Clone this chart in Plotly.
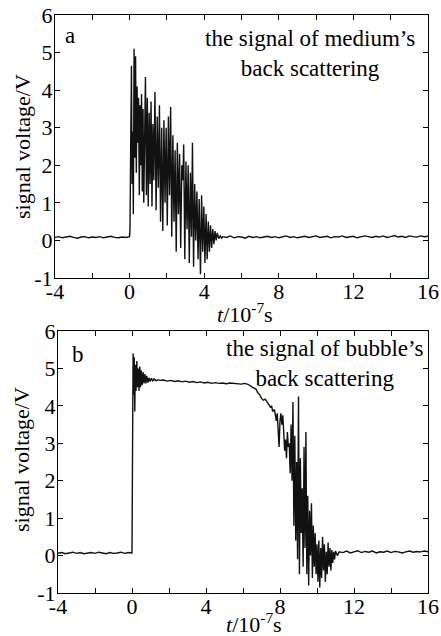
import plotly.graph_objects as go

# ---------------- data (t in 1e-7 s, signal in V) ----------------
t_pre = [-4.0, -3.8, -3.6, -3.4, -3.2, -3.0, -2.8, -2.6, -2.4, -2.2, -2.0,
         -1.8, -1.6, -1.4, -1.2, -1.0, -0.8, -0.6, -0.4, -0.2, 0.0]

a_pre = [0.08, 0.10, 0.07, 0.09, 0.11, 0.08, 0.06, 0.09, 0.10, 0.07, 0.09,
         0.08, 0.10, 0.07, 0.09, 0.11, 0.08, 0.07, 0.09, 0.08, 0.10]

a_burst_t = [0.02, 0.06, 0.10, 0.13, 0.17, 0.20, 0.24, 0.28, 0.32, 0.36, 0.40,
             0.44, 0.48, 0.52, 0.56, 0.60, 0.64, 0.68, 0.72, 0.76, 0.80, 0.85,
             0.90, 0.95, 1.00, 1.05, 1.10, 1.15, 1.20, 1.25, 1.30, 1.36, 1.42,
             1.48, 1.54, 1.60, 1.66, 1.72, 1.78, 1.84, 1.90, 1.96, 2.02, 2.08,
             2.14, 2.20, 2.26, 2.32, 2.38, 2.44, 2.50, 2.56, 2.62, 2.68, 2.74,
             2.80, 2.86, 2.90, 2.96, 3.02, 3.08, 3.14, 3.20, 3.26, 3.32, 3.37,
             3.43, 3.49, 3.55, 3.61, 3.67, 3.73, 3.80, 3.86, 3.92, 3.98, 4.04,
             4.10, 4.16, 4.22, 4.28, 4.34, 4.40, 4.46, 4.52, 4.58, 4.64, 4.70,
             4.78, 4.86, 4.94, 5.00]
a_burst_v = [0.3, 2.6, 4.65, 1.5, 2.9, 0.7, 5.1, 2.2, 4.9, 1.8, 4.1,
             2.6, 3.8, 1.2, 3.6, 2.0, 3.9, 1.3, 3.5, 1.0, 3.2, 4.35,
             1.2, 3.8, 0.9, 3.4, 1.5, 3.7, 0.9, 3.1, 1.6, 3.95, 0.8,
             3.3, 1.4, 3.6, 0.5, 3.0, 0.25, 3.2, 1.0, 3.0, 0.4, 3.3,
             1.2, 3.55, 0.1, 2.8, 0.5, 2.4, -0.3, 2.6, 0.7, 2.3, -0.2,
             2.0, 1.6, 2.55, -0.5, 2.1, 0.3, 2.0, -0.6, 1.8, 0.1, 2.6,
             -0.7, 1.5, 0.0, 1.3, -0.5, 1.1, -0.9, 1.2, -0.3, 0.9, -0.6,
             0.7, -0.5, 0.5, -0.3, 0.4, -0.2, 0.3, -0.1, 0.25, 0.0, 0.2,
             0.05, 0.12, 0.06, 0.1]

a_post_t = [5.2, 5.4, 5.6, 5.8, 6.0, 6.2, 6.4, 6.6, 6.8, 7.0, 7.2, 7.4, 7.6,
            7.8, 8.0, 8.2, 8.4, 8.6, 8.8, 9.0, 9.2, 9.4, 9.6, 9.8, 10.0, 10.2,
            10.4, 10.6, 10.8, 11.0, 11.2, 11.4, 11.6, 11.8, 12.0, 12.2, 12.4,
            12.6, 12.8, 13.0, 13.2, 13.4, 13.6, 13.8, 14.0, 14.2, 14.4, 14.6,
            14.8, 15.0, 15.2, 15.4, 15.6, 15.8, 16.0]
a_post_v = [0.08, 0.12, 0.07, 0.10, 0.09, 0.06, 0.11, 0.08, 0.10, 0.07, 0.09,
            0.11, 0.08, 0.10, 0.07, 0.09, 0.12, 0.08, 0.10, 0.07, 0.09, 0.11,
            0.08, 0.10, 0.12, 0.08, 0.09, 0.11, 0.07, 0.10, 0.09, 0.12, 0.08,
            0.10, 0.11, 0.07, 0.09, 0.12, 0.10, 0.08, 0.11, 0.09, 0.12, 0.08,
            0.10, 0.13, 0.09, 0.11, 0.08, 0.12, 0.10, 0.09, 0.12, 0.10, 0.11]

b_pre = [0.06, 0.08, 0.05, 0.07, 0.09, 0.06, 0.08, 0.05, 0.07, 0.08, 0.06,
         0.09, 0.07, 0.05, 0.08, 0.06, 0.07, 0.09, 0.06, 0.08, 0.07]

b_main_t = [0.02, 0.04, 0.06, 0.09, 0.12, 0.15, 0.18, 0.22, 0.26, 0.30, 0.34,
            0.38, 0.42, 0.46, 0.50, 0.55, 0.60, 0.65, 0.70, 0.75, 0.80, 0.86,
            0.92, 0.98, 1.05, 1.12, 1.20, 1.30, 1.40, 1.50, 1.7, 1.9, 2.1,
            2.3, 2.5, 2.7, 2.9, 3.1, 3.3, 3.5, 3.7, 3.9, 4.1, 4.3, 4.5, 4.7,
            4.9, 5.1, 5.3, 5.5, 5.7, 5.9, 6.1, 6.3, 6.5, 6.7, 6.8, 6.9, 7.0,
            7.1, 7.2, 7.3, 7.4, 7.5, 7.55, 7.6, 7.7, 7.75, 7.8, 7.85, 7.9,
            7.95, 8.0, 8.05, 8.1, 8.15, 8.2, 8.25, 8.3, 8.35, 8.4, 8.45, 8.5,
            8.55, 8.6, 8.65, 8.7, 8.75, 8.8, 8.85, 8.9, 8.95, 9.0, 9.05, 9.1,
            9.15, 9.2, 9.25, 9.3, 9.35, 9.4, 9.45, 9.5, 9.55, 9.6, 9.65, 9.7,
            9.75, 9.8, 9.85, 9.9, 9.95, 10.0, 10.05, 10.1, 10.15, 10.2, 10.25,
            10.3, 10.35, 10.4, 10.45, 10.5, 10.55, 10.6, 10.65, 10.7, 10.75,
            10.8, 10.85, 10.9, 10.95, 11.0, 11.1, 11.2]
b_main_v = [1.0, 3.8, 5.4, 4.3, 5.3, 3.85, 5.1, 4.4, 5.2, 4.5, 5.0,
            4.4, 5.05, 4.5, 4.95, 4.55, 4.9, 4.6, 4.85, 4.6, 4.8, 4.62,
            4.75, 4.65, 4.74, 4.66, 4.72, 4.67, 4.70, 4.68, 4.69, 4.66, 4.68,
            4.65, 4.67, 4.64, 4.66, 4.63, 4.65, 4.62, 4.64, 4.61, 4.63, 4.60,
            4.62, 4.60, 4.61, 4.59, 4.61, 4.60, 4.60, 4.58, 4.60, 4.57, 4.50,
            4.45, 4.35, 4.30, 4.20, 4.15, 4.18, 4.10, 4.05, 3.95, 4.0, 3.85,
            3.9, 3.7, 3.6, 3.8, 3.2, 2.9, 3.6, 3.8, 3.5, 3.75, 3.3, 2.8, 3.1,
            2.6, 3.3, 2.9, 3.0, 2.2, 3.5, 2.0, 4.1, 0.8, 3.2, 0.4, 2.5, -0.1,
            4.25, -0.5, 2.6, 0.6, 1.8, -0.3, 2.9, 0.2, 3.3, -0.5, 1.6, -0.8,
            1.2, 0.0, 1.4, -0.6, 0.8, -0.3, 0.6, -0.5, 0.3, -0.7, 0.4, -0.85,
            0.2, -0.6, 0.5, -0.4, 0.3, -0.7, 0.1, -0.5, 0.35, -0.3, 0.2, -0.4,
            0.15, -0.2, 0.1, -0.1, 0.12, 0.0, 0.1]

b_post_t = [11.4, 11.6, 11.8, 12.0, 12.2, 12.4, 12.6, 12.8, 13.0, 13.2, 13.4,
            13.6, 13.8, 14.0, 14.2, 14.4, 14.6, 14.8, 15.0, 15.2, 15.4, 15.6,
            15.8, 16.0]
b_post_v = [0.08, 0.12, 0.07, 0.10, 0.13, 0.08, 0.11, 0.09, 0.12, 0.07, 0.10,
            0.09, 0.12, 0.08, 0.11, 0.10, 0.07, 0.10, 0.12, 0.09, 0.11, 0.10,
            0.12, 0.10]

x_tickvals = [-4, -2, 0, 2, 4, 6, 8, 10, 12, 14, 16]
x_ticktext = ["-4", "", "0", "", "4", "", "8", "", "12", "", "16"]
y_tickvals = [-1, 0, 1, 2, 3, 4, 5, 6]
y_ticktext = ["-1", "0", "1", "2", "3", "4", "5", "6"]

x_title = "<i>t</i>/10<sup>-7</sup>s"
y_title = "signal voltage/V"

FONT = "Liberation Serif, Times New Roman, serif"
FS = 22

W = 441
H = 636

def px(x):
    return x / W

def py(y):
    return 1 - y / H

fig = go.Figure()
fig.add_trace(go.Scatter(x=t_pre + a_burst_t + a_post_t,
                         y=a_pre + a_burst_v + a_post_v,
                         mode="lines", line=dict(color="#111", width=1.4),
                         xaxis="x", yaxis="y", showlegend=False))
fig.add_trace(go.Scatter(x=t_pre + b_main_t + b_post_t,
                         y=b_pre + b_main_v + b_post_v,
                         mode="lines", line=dict(color="#111", width=1.4),
                         xaxis="x2", yaxis="y2", showlegend=False))

def xax(domain, anchor):
    return dict(domain=domain, anchor=anchor, range=[-4, 16],
                tickmode="array", tickvals=x_tickvals, ticktext=x_ticktext,
                ticks="inside", ticklen=5, tickcolor="black",
                showline=True, linecolor="black", linewidth=1, mirror="ticks",
                showgrid=False, zeroline=False, automargin=False,
                ticklabelstandoff=-6, ticklabeloverflow="allow",
                tickfont=dict(family=FONT, size=FS, color="black"))

def yax(domain, anchor):
    return dict(domain=domain, anchor=anchor, range=[-1, 6],
                tickmode="array", tickvals=y_tickvals, ticktext=y_ticktext,
                ticks="inside", ticklen=5, tickcolor="black",
                showline=True, linecolor="black", linewidth=1, mirror="ticks",
                showgrid=False, zeroline=False, automargin=False,
                ticklabelstandoff=-3, ticklabeloverflow="allow",
                tickfont=dict(family=FONT, size=FS, color="black"))

fig.update_layout(
    width=W, height=H,
    margin=dict(l=0, r=0, t=0, b=0, autoexpand=False),
    paper_bgcolor="white", plot_bgcolor="white",
    xaxis=xax([px(55), px(428)], "y"),
    yaxis=yax([py(278), py(15)], "x"),
    xaxis2=xax([px(58), px(428)], "y2"),
    yaxis2=yax([py(593), py(331)], "x2"),
    font=dict(family=FONT, color="black"),
)

ann_font = dict(family=FONT, size=23, color="black")
lab_font = dict(family=FONT, size=FS, color="black")

def ann(x, y, text, font, angle=0):
    fig.add_annotation(x=px(x), y=py(y), xref="paper", yref="paper",
                       xanchor="center", yanchor="middle", text=text,
                       showarrow=False, font=font, align="center",
                       textangle=angle)

ann(70, 35, "a", ann_font)
ann(310, 54, "the signal of medium’s<br>back scattering", ann_font)
ann(78, 354, "b", ann_font)
ann(324, 363, "the signal of bubble’s<br>back scattering", ann_font)
ann(245, 313, x_title, lab_font)
ann(254, 623, x_title, lab_font)
ann(22, 147, y_title, lab_font, -90)
ann(22, 460, y_title, lab_font, -90)

fig.write_html("out.html",
               config={"displayModeBar": False},
               post_script="document.body.style.margin='0';"
                           "document.body.style.overflow='hidden';")
